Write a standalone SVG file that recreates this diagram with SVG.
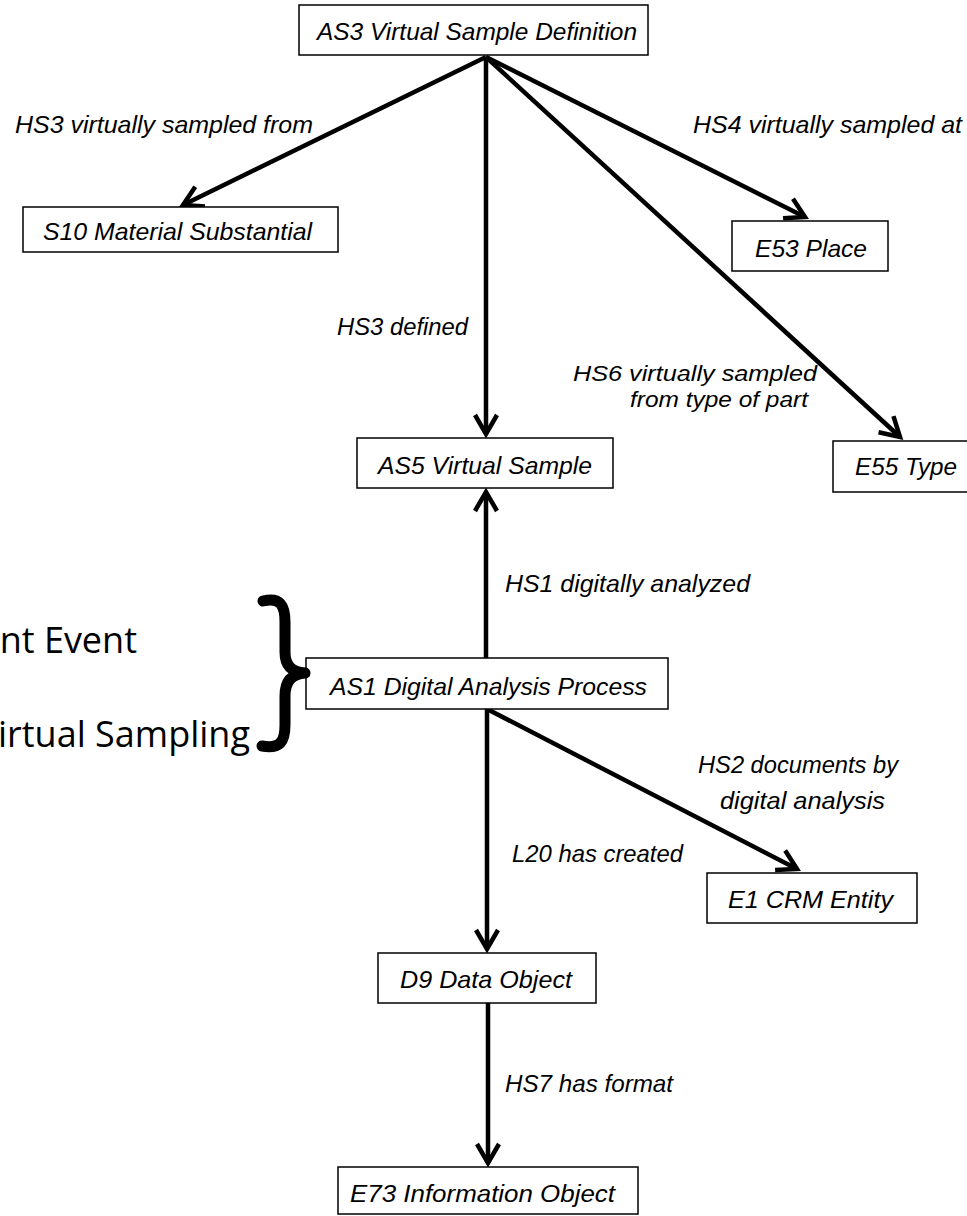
<svg xmlns="http://www.w3.org/2000/svg" width="967" height="1216" viewBox="0 0 967 1216">
<defs>
<style>
.box{fill:#fff;stroke:#000;stroke-width:1.5}
.t{font-family:"Liberation Sans",Arial,sans-serif;font-style:italic;font-size:24px;fill:#000}
.t2{font-size:22px}
.edge{stroke:#000;stroke-width:4.5;fill:none;marker-end:url(#arr)}
.side{font-family:"Open Sans","Noto Sans",sans-serif;font-size:36px;fill:#000}
</style>
<marker id="arr" markerUnits="userSpaceOnUse" viewBox="-24 -14 28 28" markerWidth="28" markerHeight="28" refX="0" refY="0" orient="auto" overflow="visible">
<path d="M-19,-11 L0,0 L-19,11" fill="none" stroke="#000" stroke-width="4.5" stroke-linejoin="miter"/>
</marker>
</defs>
<rect width="967" height="1216" fill="#fff"/>

<g id="connectors">
<path class="edge" d="M486,57 L183,205"/>
<path class="edge" d="M486,57 L486,434"/>
<path class="edge" d="M486,57 L805,217"/>
<path class="edge" d="M486,57 L900,437"/>
<path class="edge" d="M486,658 L486,492"/>
<path class="edge" d="M487,709 L487,949"/>
<path class="edge" d="M487,709 L797,869"/>
<path class="edge" d="M488,1003 L488,1163"/>
</g>

<g id="edge-labels">
<text class="t" x="15" y="133" textLength="298" lengthAdjust="spacingAndGlyphs">HS3 virtually sampled from</text>
<text class="t" x="693" y="133" textLength="269" lengthAdjust="spacingAndGlyphs">HS4 virtually sampled at</text>
<text class="t" x="337" y="335" textLength="131" lengthAdjust="spacingAndGlyphs">HS3 defined</text>
<text class="t t2" x="573" y="381" textLength="244" lengthAdjust="spacingAndGlyphs">HS6 virtually sampled</text>
<text class="t t2" x="630" y="407" textLength="178" lengthAdjust="spacingAndGlyphs">from type of part</text>
<text class="t" x="505" y="592" textLength="245" lengthAdjust="spacingAndGlyphs">HS1 digitally analyzed</text>
<text class="t" x="698" y="773" textLength="200" lengthAdjust="spacingAndGlyphs">HS2 documents by</text>
<text class="t" x="720" y="809" textLength="165" lengthAdjust="spacingAndGlyphs">digital analysis</text>
<text class="t" x="512" y="862" textLength="171" lengthAdjust="spacingAndGlyphs">L20 has created</text>
<text class="t" x="505" y="1092" textLength="168" lengthAdjust="spacingAndGlyphs">HS7 has format</text>
</g>

<g id="AS3">
<rect class="box" x="299" y="5" width="349" height="50"/>
<text class="t" x="317" y="40" textLength="320" lengthAdjust="spacingAndGlyphs">AS3 Virtual Sample Definition</text>
</g>
<g id="S10">
<rect class="box" x="23" y="207" width="315" height="45"/>
<text class="t" x="43" y="240" textLength="269" lengthAdjust="spacingAndGlyphs">S10 Material Substantial</text>
</g>
<g id="E53">
<rect class="box" x="732" y="221" width="156" height="50"/>
<text class="t" x="755" y="257" textLength="112" lengthAdjust="spacingAndGlyphs">E53 Place</text>
</g>
<g id="AS5">
<rect class="box" x="357" y="438" width="256" height="50"/>
<text class="t" x="378" y="474" textLength="214" lengthAdjust="spacingAndGlyphs">AS5 Virtual Sample</text>
</g>
<g id="E55">
<rect class="box" x="833" y="441" width="140" height="51"/>
<text class="t" x="855" y="475" textLength="102" lengthAdjust="spacingAndGlyphs">E55 Type</text>
</g>
<g id="AS1">
<rect class="box" x="306" y="658" width="362" height="51"/>
<text class="t" x="330" y="695" textLength="317" lengthAdjust="spacingAndGlyphs">AS1 Digital Analysis Process</text>
</g>
<g id="E1">
<rect class="box" x="707" y="873" width="210" height="50"/>
<text class="t" x="728" y="908" textLength="165" lengthAdjust="spacingAndGlyphs">E1 CRM Entity</text>
</g>
<g id="D9">
<rect class="box" x="378" y="953" width="218" height="50"/>
<text class="t" x="400" y="988" textLength="172" lengthAdjust="spacingAndGlyphs">D9 Data Object</text>
</g>
<g id="E73">
<rect class="box" x="338" y="1167" width="300" height="47"/>
<text class="t" x="350" y="1202" textLength="265" lengthAdjust="spacingAndGlyphs">E73 Information Object</text>
</g>

<g id="side-note">
<text class="side" x="137" y="653" text-anchor="end">nt Event</text>
<text class="side" x="250" y="747" text-anchor="end">irtual Sampling</text>
<path d="M263,601 C280,597 285,605 285,622 L285,652 C285,666 292,672 305,673 C292,674 285,681 285,696 L285,725 C285,742 280,749 262,746" fill="none" stroke="#000" stroke-width="11" stroke-linecap="round" stroke-linejoin="round"/>
</g>
</svg>
